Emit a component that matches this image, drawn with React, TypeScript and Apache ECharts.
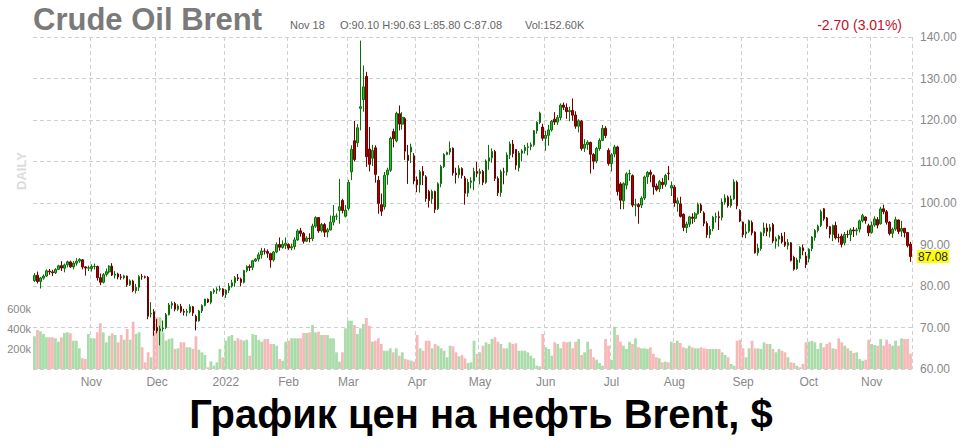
import React, { useEffect, useRef } from "react";
import * as echarts from "echarts";

// Trading calendar: every weekday from the first to the last session shown
const FIRST_DAY = [2021, 9, 5];
const LAST_DAY = [2022, 10, 18];

// Daily candles: [open, close, low, high]
const ohlc: number[][] = [
  // Oct 2021
  [81.3, 82.56, 81.0, 83.1], [82.6, 81.08, 80.6, 83.47], [81.1, 81.95, 79.4, 82.2], [81.9, 82.39, 81.5, 82.8],
  [82.4, 83.65, 82.2, 84.0], [83.6, 83.42, 82.7, 84.1], [83.4, 83.18, 82.4, 83.9], [83.2, 84.0, 82.9, 84.3],
  [84.0, 84.86, 83.9, 85.1], [84.9, 84.33, 83.6, 86.0], [84.3, 85.08, 83.3, 85.4], [85.1, 85.82, 84.5, 86.1],
  [85.8, 84.61, 84.4, 86.1], [84.6, 85.53, 84.0, 86.0], [85.5, 85.99, 84.9, 86.7], [86.0, 86.4, 85.6, 86.7],
  [86.3, 84.58, 84.0, 86.5], [84.6, 84.32, 82.5, 84.8], [84.3, 84.38, 83.6, 84.9],
  // Nov 2021
  [84.2, 84.71, 83.5, 85.2], [84.7, 84.72, 84.0, 85.4], [84.7, 81.99, 81.3, 84.9], [82.0, 80.9, 80.2, 83.0],
  [80.9, 82.74, 80.6, 83.1], [82.8, 83.43, 82.3, 84.2], [83.4, 84.78, 83.0, 85.0], [84.8, 82.64, 82.4, 85.5],
  [82.6, 82.87, 81.8, 83.6], [82.9, 82.17, 81.6, 83.2], [82.2, 82.05, 81.5, 82.9], [82.0, 82.43, 81.6, 82.7],
  [82.4, 80.28, 79.8, 82.5], [80.3, 81.24, 80.0, 81.6], [81.2, 78.89, 78.5, 81.5], [78.9, 79.7, 78.2, 80.5],
  [79.7, 82.31, 78.8, 82.6], [82.3, 82.25, 81.5, 82.9], [82.2, 82.1, 81.8, 82.5], [82.1, 72.72, 72.0, 82.4],
  [73.3, 73.44, 72.4, 76.1], [73.8, 69.3, 68.0, 74.4],
  // Dec 2021
  [70.0, 69.2, 68.6, 72.0], [69.2, 69.67, 65.7, 70.4], [69.7, 69.88, 69.0, 71.7], [70.0, 73.08, 69.6, 73.5],
  [73.1, 75.44, 72.9, 75.9], [75.4, 75.82, 74.5, 76.3], [75.8, 74.42, 73.9, 76.2], [74.4, 75.15, 74.0, 75.6],
  [75.1, 73.9, 73.5, 75.7], [73.9, 73.7, 72.9, 74.5], [73.7, 73.88, 72.7, 74.5], [73.8, 75.02, 73.4, 75.6],
  [75.0, 73.52, 72.8, 75.2], [72.7, 71.52, 69.3, 73.1], [71.6, 73.98, 71.4, 74.2], [74.0, 75.29, 73.5, 75.6],
  [75.3, 76.85, 75.1, 76.9], [76.8, 76.14, 75.9, 77.0], [76.1, 78.6, 75.6, 78.8], [78.6, 78.94, 78.1, 79.4],
  [79.0, 79.23, 78.1, 79.7], [79.2, 79.32, 78.7, 80.1], [79.3, 77.78, 77.4, 79.5],
  // Jan 2022
  [78.0, 78.98, 77.1, 79.2], [79.0, 80.0, 78.3, 80.7], [80.0, 80.8, 79.6, 81.5], [80.8, 81.99, 79.8, 82.4],
  [82.0, 81.75, 81.2, 82.9], [81.7, 80.87, 79.9, 82.0], [80.9, 83.72, 80.6, 83.9], [83.7, 84.67, 83.3, 85.0],
  [84.7, 84.47, 83.6, 85.2], [84.5, 86.06, 83.8, 86.3], [86.0, 86.48, 85.8, 86.7], [86.5, 87.51, 85.9, 88.1],
  [87.5, 88.44, 86.6, 89.2], [88.4, 88.38, 87.6, 89.1], [88.3, 87.89, 86.8, 88.8], [87.8, 86.27, 84.4, 88.0],
  [86.3, 88.2, 85.9, 88.4], [88.2, 89.96, 87.9, 90.5], [90.0, 89.34, 88.5, 91.7], [89.3, 90.03, 89.0, 91.0],
  [89.8, 90.3, 88.9, 91.7],
  // Feb 2022
  [90.0, 89.16, 88.7, 90.3], [89.2, 89.47, 88.6, 90.2], [89.5, 91.11, 88.8, 91.7], [91.1, 93.27, 90.9, 93.7],
  [93.3, 92.69, 91.9, 94.0], [92.7, 90.78, 90.2, 93.0], [90.8, 91.55, 90.6, 92.0], [91.5, 91.41, 90.5, 92.7],
  [91.4, 94.44, 90.8, 95.0], [94.4, 96.48, 94.0, 96.8], [96.5, 93.28, 92.8, 96.6], [93.3, 94.81, 92.9, 95.2],
  [94.8, 92.97, 91.8, 95.2], [93.0, 93.54, 91.7, 94.0], [93.5, 95.39, 93.4, 97.0], [95.4, 96.84, 94.6, 99.5],
  [96.8, 96.84, 95.9, 97.5], [98.2, 99.08, 95.0, 105.8], [100.6, 98.2, 97.5, 101.0], [96.8, 98.3, 96.5, 99.5],
  // Mar 2022
  [98.7, 104.97, 98.2, 105.6], [107.5, 112.93, 105.5, 113.9], [115.0, 110.46, 110.0, 119.8], [114.5, 118.11, 113.5, 119.0],
  [122.8, 123.21, 117.5, 139.13], [124.9, 127.98, 122.0, 133.15], [130.5, 111.14, 108.7, 131.6], [113.0, 109.33, 107.6, 118.3],
  [110.8, 112.67, 108.9, 114.0], [113.3, 106.9, 104.9, 113.9], [105.5, 99.91, 97.4, 106.5], [99.6, 98.02, 96.9, 102.3],
  [99.1, 106.64, 98.4, 107.5], [106.8, 107.93, 104.4, 108.5], [107.9, 115.62, 107.5, 116.0], [117.2, 115.48, 113.4, 117.9],
  [115.0, 121.6, 114.6, 122.0], [121.5, 119.03, 117.5, 123.5], [119.0, 120.65, 117.7, 121.9], [120.3, 112.48, 110.4, 120.7],
  [111.5, 110.23, 104.6, 114.0], [112.3, 113.45, 109.6, 114.3], [111.4, 105.3, 104.5, 112.0],
  // Apr 2022
  [105.6, 104.39, 102.6, 106.4], [104.4, 107.53, 102.5, 108.0], [107.6, 106.64, 104.3, 108.9], [106.3, 101.07, 100.3, 106.7],
  [102.8, 100.58, 98.9, 103.2], [101.0, 102.78, 99.8, 103.2], [102.8, 98.48, 97.6, 103.0], [98.6, 104.64, 98.3, 105.0],
  [104.7, 108.78, 103.8, 109.2], [108.8, 111.7, 108.4, 112.0], [111.7, 112.2, 111.5, 112.4], [112.3, 113.16, 111.6, 114.8],
  [113.2, 107.25, 106.6, 113.4], [107.2, 106.8, 104.7, 108.5], [106.8, 108.33, 106.0, 109.1], [108.3, 106.65, 105.9, 108.6],
  [106.0, 102.32, 99.6, 106.5], [102.4, 104.99, 101.5, 105.8], [105.0, 105.32, 103.5, 106.2], [105.3, 107.59, 103.1, 108.5],
  [107.6, 107.14, 106.2, 109.9],
  // May 2022
  [107.1, 107.58, 104.5, 108.3], [107.6, 104.97, 104.3, 108.0], [105.0, 110.14, 104.6, 110.5], [110.1, 110.9, 108.0, 114.0],
  [110.9, 112.39, 109.7, 113.2], [112.4, 105.94, 105.3, 112.8], [105.9, 102.46, 101.7, 106.4], [102.5, 107.51, 101.5, 108.0],
  [107.5, 107.45, 104.5, 108.5], [107.5, 111.55, 106.6, 112.2], [111.6, 114.24, 110.6, 114.8], [114.2, 111.93, 111.0, 115.2],
  [112.9, 109.11, 108.0, 113.0], [108.5, 112.04, 107.6, 112.5], [112.0, 112.55, 110.0, 113.0], [112.6, 113.42, 111.9, 114.0],
  [113.4, 113.56, 111.5, 114.5], [113.6, 114.03, 112.7, 114.6], [114.0, 117.4, 113.6, 117.6], [117.4, 119.43, 116.7, 119.7],
  [119.4, 121.67, 119.0, 122.0], [118.3, 115.6, 115.0, 119.1],
  // Jun 2022
  [115.6, 116.29, 112.6, 117.4], [116.3, 117.61, 113.8, 118.8], [117.6, 119.72, 117.2, 120.0], [120.2, 119.51, 118.8, 121.9],
  [119.5, 120.57, 118.8, 121.2], [120.6, 123.58, 120.0, 124.0], [123.6, 123.07, 122.4, 124.2], [123.0, 122.01, 120.3, 124.0],
  [122.0, 122.27, 119.7, 123.2], [122.3, 121.17, 119.8, 125.2], [121.2, 118.51, 117.9, 122.1], [118.5, 119.81, 117.0, 120.2],
  [119.7, 113.12, 112.6, 120.0], [113.2, 114.13, 112.3, 115.4], [114.1, 114.65, 112.8, 115.1], [114.6, 111.74, 107.1, 114.8],
  [111.7, 110.05, 108.1, 112.0], [110.1, 113.12, 109.6, 113.5], [113.1, 115.09, 112.6, 115.6], [115.1, 117.98, 114.9, 118.8],
  [118.0, 116.26, 115.6, 118.5], [112.7, 109.5, 109.0, 113.2],
  // Jul 2022
  [109.5, 111.63, 107.6, 112.0], [111.8, 113.5, 111.0, 114.0], [113.5, 102.77, 101.8, 113.8], [104.6, 100.69, 98.5, 105.0],
  [100.5, 104.65, 98.5, 105.0], [104.3, 107.02, 103.3, 107.4], [107.0, 107.1, 105.3, 108.0], [106.6, 99.49, 99.0, 106.9],
  [99.5, 99.57, 96.8, 101.0], [99.6, 99.1, 95.0, 100.0], [99.5, 101.16, 98.8, 101.6], [101.2, 106.27, 100.7, 106.6],
  [106.3, 107.35, 104.6, 107.7], [107.4, 106.92, 105.0, 108.0], [106.6, 103.86, 102.0, 106.9], [104.1, 103.2, 102.8, 104.7],
  [103.4, 105.15, 102.6, 105.6], [105.0, 104.4, 103.4, 106.0], [104.5, 106.62, 103.9, 107.0], [107.2, 107.14, 105.5, 108.9],
  [103.6, 104.2, 101.7, 105.2],
  // Aug 2022
  [103.8, 100.03, 99.1, 104.3], [99.9, 100.54, 97.9, 101.3], [99.8, 96.78, 96.5, 101.5], [97.3, 94.12, 93.2, 97.5],
  [94.1, 94.92, 92.8, 95.5], [94.9, 96.65, 94.2, 96.9], [96.6, 96.31, 95.0, 97.5], [96.3, 97.4, 95.4, 97.8],
  [97.4, 99.6, 97.2, 100.1], [99.5, 98.15, 97.6, 99.9], [97.6, 95.1, 94.4, 98.0], [95.1, 92.34, 91.6, 95.6],
  [92.4, 93.65, 91.5, 94.5], [93.8, 96.59, 93.2, 96.9], [96.6, 96.72, 95.3, 97.7], [96.7, 96.48, 93.5, 98.0],
  [96.5, 100.22, 95.8, 101.1], [100.2, 101.22, 99.6, 102.1], [101.4, 99.34, 98.9, 101.8], [99.4, 100.99, 98.9, 101.8],
  [101.0, 105.09, 100.7, 105.7], [105.0, 99.31, 98.5, 105.4], [98.2, 95.64, 95.4, 98.5],
  // Sep 2022
  [95.4, 92.36, 91.7, 95.5], [92.6, 93.02, 91.5, 95.0], [93.2, 95.74, 92.8, 96.0], [95.3, 92.83, 92.2, 95.8],
  [93.0, 88.0, 87.8, 93.2], [88.0, 89.15, 87.3, 90.2], [89.0, 92.84, 88.5, 93.1], [92.8, 94.0, 92.0, 95.3],
  [94.0, 93.17, 92.0, 95.1], [93.2, 94.1, 91.7, 94.9], [94.8, 90.84, 90.3, 95.2], [90.8, 91.35, 89.0, 91.9],
  [91.3, 92.0, 89.5, 92.3], [92.0, 90.62, 90.2, 92.8], [90.6, 89.83, 89.4, 93.0], [89.8, 90.46, 88.8, 91.3],
  [90.4, 86.15, 85.9, 90.6], [86.9, 84.06, 83.7, 87.3], [84.2, 86.27, 83.9, 86.8], [86.6, 89.32, 85.6, 89.6],
  [89.2, 88.49, 87.4, 90.0], [87.2, 85.14, 84.3, 88.2],
  // Oct 2022
  [86.6, 88.86, 85.7, 89.1], [89.0, 91.8, 88.4, 92.0], [91.7, 93.37, 90.9, 93.7], [93.4, 94.42, 92.9, 94.8],
  [94.6, 97.92, 94.2, 98.4], [98.6, 96.19, 95.7, 98.8], [96.4, 94.29, 93.7, 96.6], [94.3, 92.45, 91.5, 94.5],
  [92.4, 94.57, 90.8, 94.8], [94.6, 91.63, 91.2, 95.5], [91.7, 91.62, 90.5, 92.6], [92.0, 90.03, 89.3, 92.6],
  [90.4, 92.41, 89.8, 93.0], [92.4, 92.38, 91.6, 93.4], [92.4, 93.5, 90.8, 93.9], [93.5, 93.26, 91.8, 94.2],
  [93.3, 93.52, 92.2, 94.0], [93.7, 95.69, 92.9, 96.0], [95.7, 96.96, 95.3, 97.4], [96.6, 95.77, 95.0, 96.8],
  [94.5, 92.81, 92.0, 95.0],
  // Nov 2022
  [92.9, 94.65, 92.6, 95.5], [94.7, 96.16, 94.3, 96.8], [96.0, 94.67, 93.9, 96.6], [95.0, 98.57, 94.8, 99.1],
  [98.6, 97.92, 97.3, 99.6], [97.9, 95.36, 94.8, 98.3], [95.4, 92.65, 92.2, 95.6], [92.7, 93.67, 91.6, 94.1],
  [93.7, 95.99, 93.3, 96.7], [95.9, 93.14, 92.5, 96.0], [93.2, 93.86, 91.9, 95.7], [93.9, 92.86, 91.7, 94.0],
  [92.9, 89.78, 89.3, 93.0], [90.1, 87.08, 85.8, 90.63],
];

// Daily volume, thousands of contracts
const volumeK: number[] = [
  327, 390, 377, 350, 317, 317, 317, 307, 273, 317, 360, 367, 357, 283, 283, 207, 107, 100, 350,
  307, 307, 367, 457, 367, 267, 333, 357, 340, 267, 340, 293, 400, 293, 473, 350, 367, 217, 67, 167, 117, 367,
  517, 517, 367, 283, 300, 307, 200, 207, 267, 267, 217, 217, 200, 327, 193, 167, 140, 17, 77, 33, 67, 200, 117,
  283, 327, 340, 283, 307, 293, 283, 293, 133, 350, 340, 290, 273, 300, 300, 250, 250, 233, 100, 83, 273,
  283, 307, 307, 307, 307, 360, 360, 367, 440, 367, 373, 340, 340, 340, 307, 307, 167, 73, 167, 407,
  483, 483, 440, 350, 407, 450, 510, 433, 273, 283, 307, 250, 183, 183, 207, 167, 207, 133, 167, 100, 93, 83, 73,
  340, 207, 183, 283, 283, 207, 250, 233, 207, 183, 117, 233, 227, 167, 127, 140, 107, 60, 67, 283, 150,
  167, 233, 267, 250, 300, 317, 273, 250, 207, 207, 267, 250, 257, 183, 183, 183, 167, 133, 107, 33, 27, 350,
  217, 200, 133, 267, 250, 207, 273, 267, 273, 207, 273, 300, 140, 167, 273, 200, 117, 93, 60, 33, 300, 233,
  90, 423, 340, 273, 233, 200, 273, 250, 307, 217, 207, 207, 200, 217, 150, 117, 107, 67, 73, 67, 273,
  260, 283, 260, 217, 207, 233, 217, 207, 207, 217, 207, 200, 200, 200, 200, 200, 167, 140, 117, 50, 33, 283, 293,
  207, 117, 207, 283, 207, 207, 200, 267, 250, 250, 200, 167, 200, 183, 167, 117, 67, 60, 33, 17, 50, 267,
  273, 283, 267, 200, 260, 217, 250, 267, 207, 200, 307, 267, 233, 207, 183, 160, 167, 100, 83, 93, 293,
  250, 240, 233, 300, 233, 293, 250, 233, 283, 233, 307, 300, 300, 153,
];

const PRICE_MIN = 60;
const PRICE_MAX = 140;
const PRICE_STEP = 10;
const VOLUME_LABELS = [200, 400, 600];
const MONTH_NAMES = ["2022", "Feb", "Mar", "Apr", "May", "Jun", "Jul", "Aug", "Sep", "Oct", "Nov", "Dec"];

const TITLE = "Crude Oil Brent";
const INFO_DATE = "Nov 18";
const INFO_OHLC = "O:90.10 H:90.63 L:85.80 C:87.08";
const INFO_VOL = "Vol:152.60K";
const CHANGE = "-2.70 (3.01%)";
const CAPTION = "График цен на нефть Brent, $";

function tradingDays(): string[] {
  const out: string[] = [];
  const d = new Date(Date.UTC(FIRST_DAY[0], FIRST_DAY[1], FIRST_DAY[2]));
  const end = Date.UTC(LAST_DAY[0], LAST_DAY[1], LAST_DAY[2]);
  while (d.getTime() <= end) {
    const wd = d.getUTCDay();
    if (wd !== 0 && wd !== 6) out.push(d.toISOString().slice(0, 10));
    d.setUTCDate(d.getUTCDate() + 1);
  }
  return out;
}

const FONT = '"Liberation Sans", Arial, sans-serif';

export default function App() {
  const ref = useRef<HTMLDivElement>(null);
  useEffect(() => {
    if (!ref.current) return;
    const chart = echarts.init(ref.current, null, { renderer: "svg" });
    const allDates = tradingDays();
    const n = Math.min(allDates.length, ohlc.length, volumeK.length);
    const dates = allDates.slice(0, n);
    const monthStart = new Set<number>();
    for (let i = 1; i < n; i++) {
      if (dates[i].slice(5, 7) !== dates[i - 1].slice(5, 7)) monthStart.add(i);
    }
    const candles = ohlc.slice(0, n);
    const vols = volumeK.slice(0, n).map((v, i) => ({
      value: v,
      itemStyle: { color: candles[i][1] >= candles[i][0] ? "#a9dca9" : "#f7b8b8" },
    }));
    const lastClose = candles[n - 1][1];
    const dash = [4, 3];

    const txt = (text: string, x: number, y: number, font: string, fill: string, align = "left", extra: any = {}) => ({
      type: "text",
      x,
      y,
      silent: true,
      ...extra,
      style: { text, font, fill, align, verticalAlign: "middle", textAlign: align, textVerticalAlign: "middle" },
    });

    chart.setOption({
      animation: false,
      backgroundColor: "#ffffff",
      textStyle: { fontFamily: FONT },
      grid: { left: 33, right: 51, top: 37, bottom: 79, containLabel: false },
      xAxis: {
        type: "category",
        data: dates,
        boundaryGap: true,
        axisLine: { show: false },
        axisTick: { show: false },
        axisLabel: {
          interval: (i: number) => monthStart.has(i),
          formatter: (v: string) => MONTH_NAMES[Number(v.slice(5, 7)) - 1],
          color: "#888",
          fontSize: 12,
          margin: 7,
          fontFamily: FONT,
        },
        splitLine: {
          show: true,
          interval: (i: number) => monthStart.has(i),
          lineStyle: { color: "#cfcfcf", type: dash, width: 1 },
        },
      },
      yAxis: [
        {
          type: "value",
          position: "right",
          min: PRICE_MIN,
          max: PRICE_MAX,
          interval: PRICE_STEP,
          axisLine: { show: false },
          axisTick: { show: false },
          axisLabel: {
            formatter: (v: number) => v.toFixed(2),
            color: "#888",
            fontSize: 12,
            margin: 8,
            fontFamily: FONT,
          },
          splitLine: { show: true, lineStyle: { color: "#cfcfcf", type: dash, width: 1 } },
        },
        {
          type: "value",
          position: "left",
          min: 0,
          max: 3320,
          interval: 200,
          axisLine: { show: false },
          axisTick: { show: false },
          splitLine: { show: false },
          axisLabel: {
            formatter: (v: number) => (VOLUME_LABELS.indexOf(v) >= 0 ? v + "k" : ""),
            color: "#888",
            fontSize: 11,
            margin: 2,
            fontFamily: FONT,
          },
        },
      ],
      series: [
        {
          type: "bar",
          yAxisIndex: 1,
          data: vols,
          barCategoryGap: "8%",
          z: 1,
          silent: true,
        },
        {
          type: "candlestick",
          yAxisIndex: 0,
          data: candles,
          barWidth: "68%",
          z: 3,
          itemStyle: {
            color: "#33bb33",
            color0: "#b00000",
            borderColor: "#0b6e0b",
            borderColor0: "#6e0000",
            borderWidth: 1,
          },
          markLine: {
            silent: true,
            symbol: "none",
            data: [{ yAxis: lastClose }],
            lineStyle: { color: "rgba(0,0,0,0)", width: 0, type: "solid" },
            label: {
              show: true,
              position: "end",
              distance: 5,
              formatter: () => lastClose.toFixed(2),
              backgroundColor: "#ffff00",
              color: "#222",
              fontSize: 12,
              padding: [1, 1, 0, 1],
              fontFamily: FONT,
            },
          },
        },
      ],
      graphic: [
        txt(TITLE, 33, 19, `bold 31px ${FONT}`, "#7a7a7a"),
        txt(INFO_DATE, 290, 25, `11px ${FONT}`, "#666"),
        txt(INFO_OHLC, 340, 25, `11px ${FONT}`, "#666"),
        txt(INFO_VOL, 525, 25, `11px ${FONT}`, "#666"),
        txt(CHANGE, 902, 25, `14px ${FONT}`, "#c0102a", "right"),
        txt("DAILY", 21, 171, `bold 13px ${FONT}`, "#dcdcdc", "center", { rotation: Math.PI / 2 }),
        txt(CAPTION, 481, 414, `bold 40px ${FONT}`, "#000", "center"),
      ],
    });
    return () => chart.dispose();
  }, []);
  return (
    <div
      ref={ref}
      style={{ position: "absolute", left: 0, top: 0, width: 963, height: 448, background: "#fff" }}
    />
  );
}
